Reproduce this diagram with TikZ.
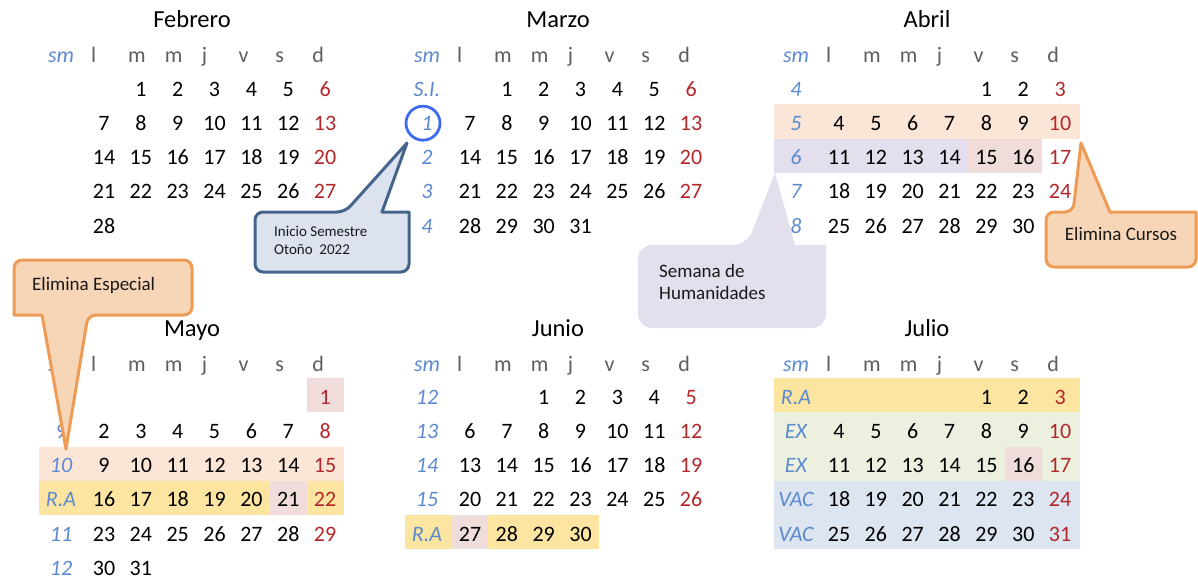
\documentclass[tikz,border=0pt]{standalone}
\usepackage{fontspec}
\setmainfont{Carlito}
\usetikzlibrary{positioning,calc}

\definecolor{wkblue}{HTML}{5B8AD0}
\definecolor{sunred}{HTML}{B3262A}
\definecolor{hdgrey}{HTML}{5E5E5E}
\definecolor{peach}{HTML}{FBE5D6}
\definecolor{lav}{HTML}{E4DFEC}
\definecolor{rose}{HTML}{EFDCDB}
\definecolor{gold}{HTML}{FBE5A0}
\definecolor{sage}{HTML}{EBF1DE}
\definecolor{sky}{HTML}{DDE5F0}
\definecolor{ringblue}{HTML}{3D6BF0}
\definecolor{slate}{HTML}{44648C}
\definecolor{slatefill}{HTML}{DCE3EF}
\definecolor{orangeline}{HTML}{EE9B55}
\definecolor{orangefill}{HTML}{F7D5B7}

% one month: name, x of first day column, title baseline, first weekday, days, title, week labels
\newcommand{\calmonth}[7]{%
  \node[title] (#1-title) at (#2+88,#3) {#6};
  \node[week] (#1-sm) at (#2-43,#3+35) {sm};
  \foreach \hd [count=\hk from 0] in {l,m,m,j,v,s,d}
    \node[dayhead] (#1-h\hk) at (#2-13+\hk*36.85,#3+35) {\hd};
  \foreach \wk [count=\wn from 0] in {#7}
    \node[week] (#1-w\wn) at (#2-43,#3+68+\wn*34.25) {\wk};
  \foreach \dd in {1,...,#5}{
    \pgfmathtruncatemacro\dpos{\dd+#4-1}
    \pgfmathtruncatemacro\dcol{mod(\dpos,7)}
    \pgfmathtruncatemacro\drow{\dpos/7}
    \ifnum\dcol=6
      \node[sunday] (#1-\dd) at (#2+\dcol*36.85,#3+68+\drow*34.25) {\dd};
    \else
      \node[day] (#1-\dd) at (#2+\dcol*36.85,#3+68+\drow*34.25) {\dd};
    \fi
  }%
}

\begin{document}
\begin{tikzpicture}[x=1pt, y=-1pt,
                    title/.style={font=\fontsize{24.5}{28}\selectfont, anchor=base, inner sep=0pt},
                    dayhead/.style={font=\fontsize{22}{26}\selectfont, text=hdgrey, anchor=base west, inner sep=0pt},
                    week/.style={font=\fontsize{22}{26}\selectfont\itshape, text=wkblue, anchor=base, inner sep=0pt},
                    day/.style={font=\fontsize{22}{26}\selectfont, anchor=base, inner sep=0pt},
                    sunday/.style={day, text=sunred},
                    ring/.style={circle, draw=ringblue, line width=2.8, minimum size=34, inner sep=0pt},
                    bluenote/.style={draw=slate, fill=slatefill, line width=3, line join=round},
                    orangenote/.style={draw=orangeline, fill=orangefill, line width=3, line join=round},
                    notetext/.style={font=\fontsize{19}{21.7}\selectfont, text=black!90, inner sep=0pt, align=left},
                ]
    \useasboundingbox (0,0) rectangle (1198,578);

    % shaded weeks
    \fill[peach] (774,104.25) rectangle (1079.5,138.5);
    \fill[lav] (774,138.5) rectangle (968,172.75);
    \fill[rose] (968,138.5) rectangle (1041.7,172.75);
    \fill[rose] (306.7,378) rectangle (343.5,412.25);
    \fill[peach] (39,446.5) rectangle (343.5,480.75);
    \fill[gold] (39,480.75) rectangle (343.5,515);
    \fill[rose] (269.8,480.75) rectangle (306.7,515);
    \fill[gold] (405,515) rectangle (599,549.25);
    \fill[rose] (451.6,515) rectangle (488.4,549.25);
    \fill[gold] (774,378) rectangle (1079.5,412.25);
    \fill[sage] (774,412.25) rectangle (1079.5,480.75);
    \fill[rose] (1004.8,446.5) rectangle (1041.7,480.75);
    \fill[sky] (774,480.75) rectangle (1079.5,549.25);

    \calmonth{feb}{104}{28}{1}{28}{Febrero}{}
    \calmonth{mar}{470}{28}{1}{31}{Marzo}{S.I.,1,2,3,4}
    \calmonth{abr}{839}{28}{4}{30}{Abril}{4,5,6,7,8}
    \calmonth{may}{104}{336}{6}{31}{Mayo}{{},9,10,R.A,11,12}
    \calmonth{jun}{470}{336}{2}{30}{Junio}{12,13,14,15,R.A}
    \calmonth{jul}{839}{336}{4}{31}{Julio}{R.A,EX,EX,VAC,VAC}

    \node[ring, xshift=-4pt] (start_ring) at (mar-w1.center) {};

    % callouts
    \draw[bluenote] (255,242) [rounded corners=8] -- (255,212) -- (345,212) [sharp corners] -- (407,143) -- (382,212) -- (409,212) [rounded corners=8] -- (409,272) -- (255,272) -- cycle;
    \node[notetext, font=\fontsize{15}{18}\selectfont, anchor=west] (start_note) at (274,240.5) {Inicio Semestre\\Otoño\ \ 2022};

    \fill[lav] (638,286) [rounded corners=14] -- (638,245) -- (747,245) [sharp corners] -- (775,173) -- (795,245) -- (826,245) [rounded corners=14] -- (826,328) -- (638,328) -- cycle;
    \node[notetext, anchor=west] (hum_note) at (659,282) {Semana de\\Humanidades};

    \draw[orangenote] (1046,240) [rounded corners=8] -- (1046,212) -- (1073,212) [sharp corners] -- (1081,143) -- (1110,212) -- (1196,212) [rounded corners=8] -- (1196,267) -- (1046,267) -- cycle;
    \node[notetext, anchor=base] (cursos_note) at (1121,240.7) {Elimina Cursos};

    \draw[orangenote] (14,288) [rounded corners=8] -- (14,260) -- (192,260) -- (192,315) -- (88,315) [sharp corners] -- (66,449) -- (42,315) -- (14,315) [rounded corners=8] -- cycle;
    \node[notetext, anchor=base west] (especial_note) at (32,290) {Elimina Especial};
\end{tikzpicture}
\end{document}
